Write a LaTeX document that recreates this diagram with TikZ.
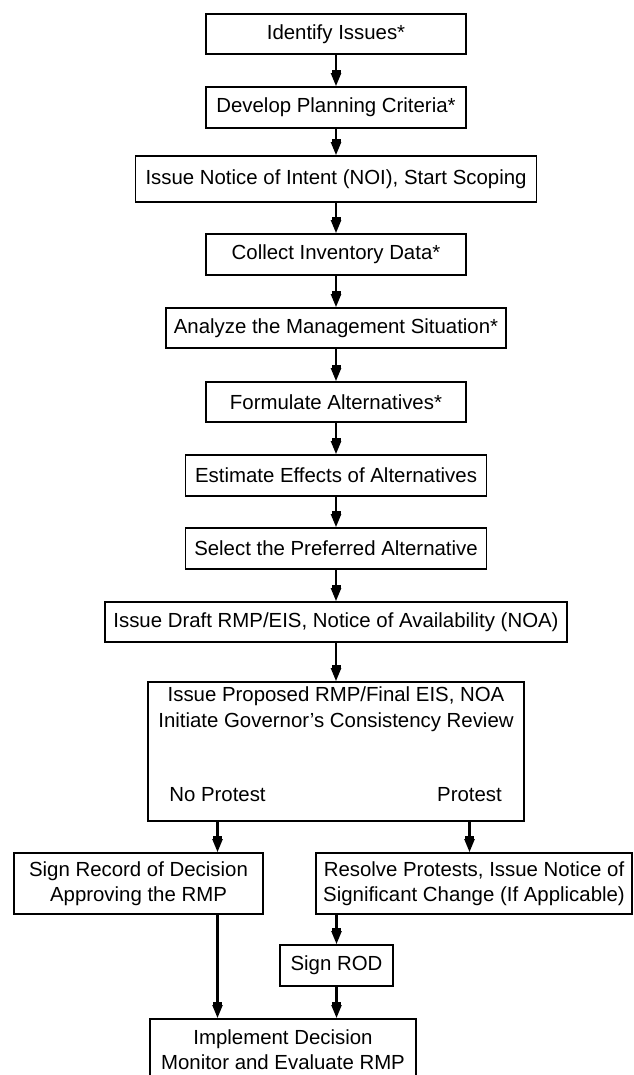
\documentclass[tikz,border=0pt]{standalone}
\usepackage{fontspec}
\setmainfont{Liberation Sans}
\usetikzlibrary{arrows.meta,calc,positioning}

\begin{document}
\begin{tikzpicture}[x=1pt,y=-1pt]
    \tikzset{stepbox/.style = {draw,
        line width = 1.8pt,
        inner sep  = 0pt,
        minimum height = 40pt,
        align = center,
        font  = \fontsize{20.4}{25.5}\selectfont},
      plaintext/.style = {inner sep=0pt, align=center,
        font = \fontsize{20.4}{25.5}\selectfont},
      flow/.style = {draw, line width=2.2pt,
        -{Rectangle[width=9pt,length=3pt] Triangle[width=10pt,length=13pt]}}}
    \useasboundingbox (0,0) rectangle (633,1075);
    \node[stepbox,minimum width=260pt] (issues) at (336,34) {Identify Issues*};
    \node[stepbox,minimum width=260pt,minimum height=41pt] (criteria) at (336,107.5) {Develop Planning Criteria*};
    \node[stepbox,minimum width=401pt,minimum height=46pt] (noi) at (336,179) {Issue Notice of Intent (NOI), Start Scoping};
    \node[stepbox,minimum width=260pt,minimum height=41pt] (inventory) at (336,254.5) {Collect Inventory Data*};
    \node[stepbox,minimum width=340pt] (situation) at (336,328) {Analyze the Management Situation*};
    \node[stepbox,minimum width=260pt] (alternatives) at (336,402) {Formulate Alternatives*};
    \node[stepbox,minimum width=301pt,minimum height=41pt] (effects) at (336,475.5) {Estimate Effects of Alternatives};
    \node[stepbox,minimum width=301pt,minimum height=41pt] (preferred) at (336,548.5) {Select the Preferred Alternative};
    \node[stepbox,minimum width=462pt] (draft) at (336,622) {Issue Draft RMP/EIS, Notice of Availability (NOA)};
    \node[stepbox,minimum width=376pt,minimum height=139pt] (proposed) at (336,751.5) {};
    \node[plaintext] (proposedtext) at (336,709) {Issue Proposed RMP/Final EIS, NOA\\Initiate Governor's Consistency Review};
    \node[plaintext] (noprotest) at (217.5,795) {No Protest};
    \node[plaintext] (protest) at (469.5,795) {Protest};
    \node[stepbox,minimum width=249pt,minimum height=61pt] (record) at (138.5,883.5) {Sign Record of Decision\\Approving the RMP};
    \node[stepbox,minimum width=316pt,minimum height=61pt] (resolve) at (474,883.5) {Resolve Protests, Issue Notice of\\Significant Change (If Applicable)};
    \node[stepbox,minimum width=113pt,minimum height=41pt] (rod) at (336.5,965.5) {Sign ROD};
    \node[stepbox,minimum width=266pt,minimum height=62pt,anchor=north] (implement) at (283,1018) {Implement Decision\\Monitor and Evaluate RMP};
    \draw[flow] (issues) -- (criteria);
    \draw[flow] (criteria) -- (noi);
    \draw[flow] (noi) -- (inventory);
    \draw[flow] (inventory) -- (situation);
    \draw[flow] (situation) -- (alternatives);
    \draw[flow] (alternatives) -- (effects);
    \draw[flow] (effects) -- (preferred);
    \draw[flow] (preferred) -- (draft);
    \draw[flow] (draft) -- (proposed);
    \draw[flow] (noprotest |- proposed.south) -- (noprotest |- record.north);
    \draw[flow] (protest |- proposed.south) -- (protest |- resolve.north);
    \draw[flow] (rod |- resolve.south) -- (rod.north);
    \draw[flow] (noprotest |- record.south) -- (noprotest |- implement.north);
    \draw[flow] (rod.south) -- (rod |- implement.north);
  \end{tikzpicture}
\end{document}
